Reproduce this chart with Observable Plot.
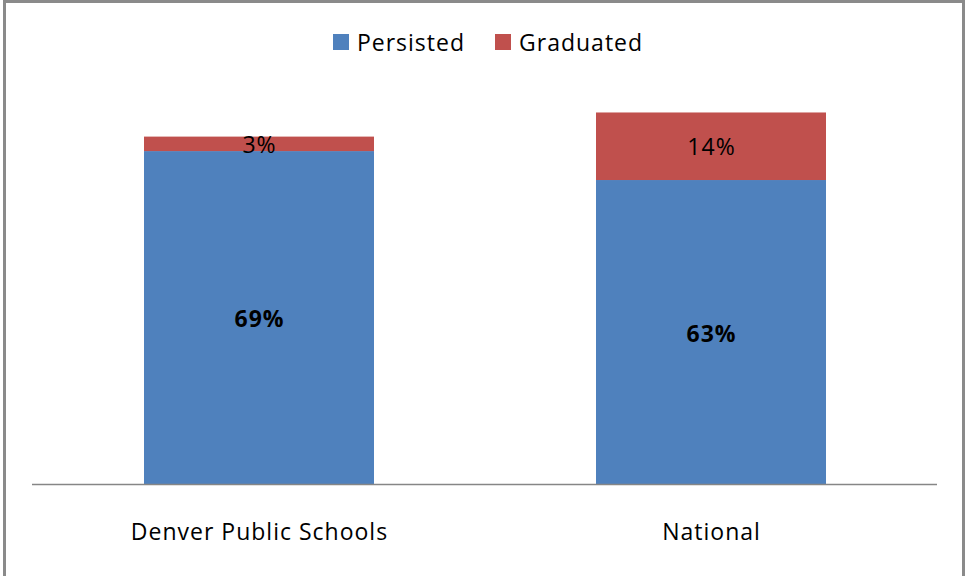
<!DOCTYPE html>
<html>
<head>
<meta charset="utf-8">
<script src="https://cdn.jsdelivr.net/npm/d3@7"></script>
<script src="https://cdn.jsdelivr.net/npm/@observablehq/plot@0.6"></script>
<style>
  html, body { margin: 0; padding: 0; background: #fff; overflow: hidden; }
  #wrap {
    position: absolute; left: 3px; top: 0px;
    width: 956px; height: 590px;
    border: 3px solid #8a8a8a; background: #fff;
    font-family: "Open Sans", "Liberation Sans", sans-serif;
  }
  #legend {
    height: 75px; display: flex; justify-content: center; align-items: flex-start;
    padding-left: 8px; box-sizing: border-box; padding-top: 23px;
    font-size: 23px; letter-spacing: 1px; color: #000;
  }
  .item { display: flex; align-items: center; margin: 0 15px; }
  .sw { width: 16px; height: 16px; margin-right: 8px; }
</style>
</head>
<body>
<div id="wrap">
  <div id="legend"></div>
  <div id="chart"></div>
</div>
<script>
const categories = ["Denver Public Schools", "National"];
const seriesNames = ["Persisted", "Graduated"];
const persisted = [69, 63];
const graduated = [3, 14];
const colors = ["#4F81BD", "#C0504D"];

const data = [];
categories.forEach((c, i) => {
  data.push({category: c, series: "Persisted", value: persisted[i]});
  data.push({category: c, series: "Graduated", value: graduated[i]});
});

const legend = document.getElementById("legend");
seriesNames.forEach((s, i) => {
  const it = document.createElement("div");
  it.className = "item";
  it.innerHTML = `<div class="sw" style="background:${colors[i]}"></div><span>${s}</span>`;
  legend.appendChild(it);
});

const chart = Plot.plot({
  width: 956,
  height: 500,
  marginLeft: 26,
  marginRight: 25,
  marginTop: 20,
  marginBottom: 94,
  style: {fontFamily: "'Open Sans', 'Liberation Sans', sans-serif", background: "transparent", letterSpacing: "1px"},
  x: {domain: categories, paddingInner: 0.492, paddingOuter: 0.246, label: null},
  y: {domain: [0, 80], axis: null},
  color: {domain: seriesNames, range: colors},
  marks: [
    Plot.barY(data, {x: "category", y: "value", fill: "series", z: "series", order: seriesNames}),
    Plot.text(data, Plot.stackY({x: "category", y: "value", z: "series", order: seriesNames,
      text: d => d.series === "Persisted" ? `${d.value}%` : "", fontSize: 23, fontWeight: "bold", fill: "#000", dy: 2})),
    Plot.text(data, Plot.stackY({x: "category", y: "value", z: "series", order: seriesNames,
      text: d => d.series === "Graduated" ? `${d.value}%` : "", fontSize: 23, fill: "#000", dy: 1})),
    Plot.ruleY([0], {stroke: "#868686", strokeWidth: 1.5}),
    Plot.axisX({tickSize: 0, tickPadding: 39, fontSize: 23, fill: "#000", label: null})
  ]
});
document.getElementById("chart").appendChild(chart);
</script>
</body>
</html>
